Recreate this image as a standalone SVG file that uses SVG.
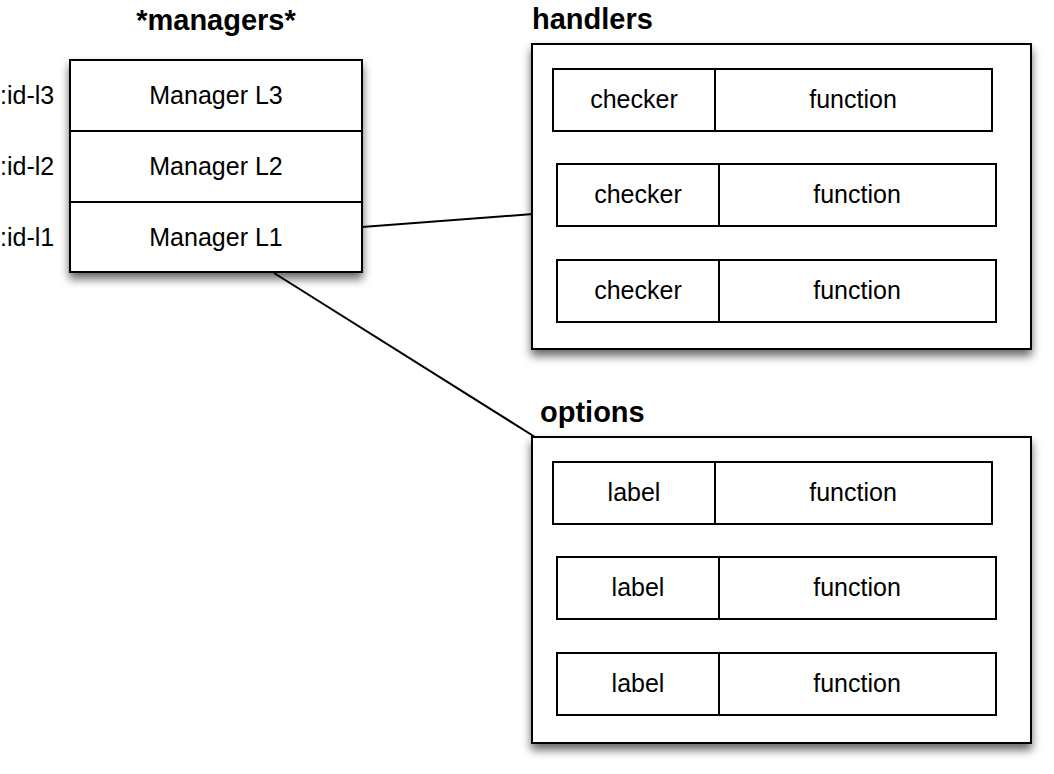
<svg xmlns="http://www.w3.org/2000/svg" width="1054" height="774" viewBox="0 0 1054 774">
<defs>
<filter id="sh" x="-10%" y="-10%" width="125%" height="135%">
<feDropShadow dx="0" dy="6" stdDeviation="5" flood-color="#000" flood-opacity="0.6"/>
</filter>
<style>
.box{fill:#fff;stroke:#000;stroke-width:2}
.cell{fill:#fff;stroke:#000;stroke-width:2}
.t{font-family:"Liberation Sans",Arial,sans-serif;font-size:25px;fill:#000;text-anchor:middle}
.l{font-family:"Liberation Sans",Arial,sans-serif;font-size:25px;fill:#000}
.h{font-family:"Liberation Sans",Arial,sans-serif;font-size:29px;font-weight:bold;fill:#000}
.c{stroke:#000;stroke-width:2;fill:none}
</style>
</defs>
<rect width="1054" height="774" fill="#fff"/>
<g id="connectors">
<line class="c" x1="362" y1="227" x2="533" y2="214"/>
<line class="c" x1="274" y1="273" x2="535" y2="437"/>
</g>
<g id="managers">
<text class="h" x="216" y="30" text-anchor="middle">*managers*</text>
<rect class="box" x="70" y="60" width="292" height="212" filter="url(#sh)"/>
<line class="c" x1="70" y1="131" x2="362" y2="131"/>
<line class="c" x1="70" y1="202" x2="362" y2="202"/>
<text class="t" x="216" y="104">Manager L3</text>
<text class="t" x="216" y="175">Manager L2</text>
<text class="t" x="216" y="246">Manager L1</text>
<text class="l" x="0" y="104">:id-l3</text>
<text class="l" x="0" y="175">:id-l2</text>
<text class="l" x="0" y="246">:id-l1</text>
</g>
<g id="handlers">
<text class="h" x="532" y="29">handlers</text>
<rect class="box" x="532" y="44" width="499" height="305" filter="url(#sh)"/>
<rect class="cell" x="553" y="69" width="439" height="62"/>
<line class="c" x1="715" y1="69" x2="715" y2="131"/>
<text class="t" x="634" y="108">checker</text>
<text class="t" x="853" y="108">function</text>
<rect class="cell" x="557" y="164" width="439" height="62"/>
<line class="c" x1="719" y1="164" x2="719" y2="226"/>
<text class="t" x="638" y="203">checker</text>
<text class="t" x="857" y="203">function</text>
<rect class="cell" x="557" y="260" width="439" height="62"/>
<line class="c" x1="719" y1="260" x2="719" y2="322"/>
<text class="t" x="638" y="299">checker</text>
<text class="t" x="857" y="299">function</text>
</g>
<g id="options">
<text class="h" x="540" y="422">options</text>
<rect class="box" x="532" y="437" width="499" height="306" filter="url(#sh)"/>
<rect class="cell" x="553" y="462" width="439" height="62"/>
<line class="c" x1="715" y1="462" x2="715" y2="524"/>
<text class="t" x="634" y="501">label</text>
<text class="t" x="853" y="501">function</text>
<rect class="cell" x="557" y="557" width="439" height="62"/>
<line class="c" x1="719" y1="557" x2="719" y2="619"/>
<text class="t" x="638" y="596">label</text>
<text class="t" x="857" y="596">function</text>
<rect class="cell" x="557" y="653" width="439" height="62"/>
<line class="c" x1="719" y1="653" x2="719" y2="715"/>
<text class="t" x="638" y="692">label</text>
<text class="t" x="857" y="692">function</text>
</g>
</svg>
